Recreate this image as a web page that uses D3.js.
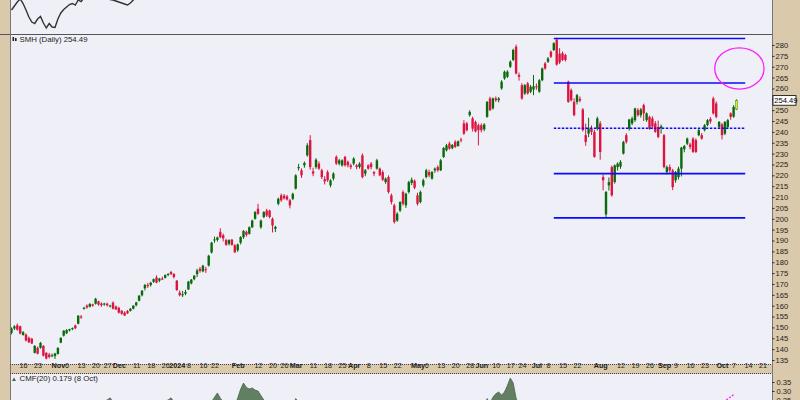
<!DOCTYPE html>
<html><head><meta charset="utf-8">
<script src="https://cdn.jsdelivr.net/npm/d3@7/dist/d3.min.js"></script>
<style>html,body{margin:0;padding:0;background:#dac9ab;}svg{display:block;font-family:"Liberation Sans",Arial,sans-serif;}</style>
</head><body>
<svg id="chart" width="800" height="400"></svg>
<script>
// ---------------- DATA ----------------
const firstDay = "2023-10-10";
const lastCalendarDay = "2024-10-25";
const marketHolidays = ["2023-11-23","2023-12-25","2024-01-01","2024-01-15","2024-02-19","2024-03-29","2024-05-27","2024-06-19","2024-07-04","2024-09-02"];

// SMH daily candles [open, high, low, close], 2023-10-10 .. 2024-10-08
const smhOHLC = [
// Oct 2023
[147.5,150.0,146.8,149.5],[149.5,151.0,148.8,150.5],[151.0,151.8,148.5,149.0],[150.5,150.8,146.8,147.2],
[146.5,148.3,146.2,147.8],[146.7,147.2,143.5,144.0],[145.2,145.8,142.8,143.2],[144.8,145.2,142.3,142.6],
[138.3,141.8,138.0,141.5],[140.6,141.2,137.6,137.9],[140.6,143.3,140.2,142.9],[141.5,141.8,136.6,137.0],
[138.3,138.6,135.3,135.7],[137.5,138.3,135.7,136.4],[136.9,138.0,136.3,137.2],[136.8,138.3,135.5,138.0],
// Nov
[137.8,140.8,137.5,140.6],[143.0,145.4,142.7,145.2],[146.2,148.7,145.8,148.5],[147.3,149.2,146.9,148.8],
[148.6,149.4,148.1,149.2],[149.3,150.0,148.7,149.7],[150.9,151.3,149.2,149.6],[151.7,155.6,151.4,155.4],
[155.0,155.7,154.0,154.6],[158.5,159.5,158.2,159.0],[160.0,160.6,158.6,159.2],[159.5,161.2,159.2,160.8],
[160.6,160.9,159.5,160.0],[160.9,163.6,160.5,163.2],[162.0,162.3,160.0,160.5],[161.0,161.5,159.5,160.2],
[160.5,161.3,160.0,161.0],[160.9,161.4,159.6,160.2],[160.0,160.4,159.2,160.1],[161.4,162.0,158.3,158.6],
[159.6,160.1,158.0,158.3],
// Dec
[159.0,159.5,156.4,156.8],[157.7,157.9,155.8,156.3],[156.8,157.4,155.2,155.5],[157.6,158.0,156.2,156.5],
[157.6,158.9,157.3,158.6],[158.6,160.3,158.3,160.0],[160.2,161.8,159.7,161.5],[162.3,164.9,162.0,164.6],
[164.8,167.2,164.3,166.9],[168.0,170.0,167.0,169.5],[169.5,170.5,168.2,169.0],[169.5,171.0,168.8,170.6],
[171.0,172.5,170.5,172.2],[173.0,174.0,170.3,170.6],[171.5,172.8,170.8,172.5],[172.5,173.4,171.8,172.4],
[172.8,174.4,172.5,174.1],[174.2,175.0,173.6,174.6],[175.5,176.0,174.2,174.5],[174.6,175.0,172.5,173.2],
// Jan 2024
[171.5,171.8,166.8,167.2],[166.0,167.0,164.3,164.8],[164.8,166.8,164.0,165.3],[165.5,167.3,164.8,166.3],
[167.5,171.4,167.2,171.1],[170.3,172.3,169.8,172.0],[172.2,174.1,171.7,173.8],[174.5,177.0,173.2,176.2],
[177.0,177.8,175.2,176.0],[175.8,178.8,175.4,178.4],[176.8,177.9,175.1,176.5],[178.5,183.4,178.0,183.0],
[184.5,189.4,184.0,189.0],[190.2,191.8,189.0,190.5],[190.3,191.8,189.5,191.4],[194.0,195.6,191.1,191.5],
[192.4,193.2,189.6,191.0],[190.2,190.8,187.6,188.0],[188.5,190.6,187.7,190.2],[190.4,190.7,187.6,188.0],
[187.8,188.3,184.2,184.6],
// Feb
[185.5,188.6,184.8,188.2],[189.0,192.0,188.2,191.6],[191.5,194.8,190.8,194.4],[194.0,194.6,191.8,192.6],
[193.1,196.5,192.7,196.1],[196.1,199.6,195.8,199.2],[200.0,203.6,199.6,203.1],[204.6,206.9,201.8,202.3],
[196.1,199.6,195.4,199.2],[200.8,203.5,200.3,203.1],[203.8,204.6,200.8,201.5],[203.8,204.2,200.2,200.8],
[200.0,200.6,193.7,196.9],[195.4,196.8,193.9,196.3],[206.9,209.8,206.2,209.2],[210.8,211.6,207.8,208.5],
[210.6,211.4,208.9,209.4],[210.3,211.0,208.4,208.9],[208.5,209.1,204.8,206.2],[209.2,212.0,208.6,211.5],
// Mar
[213.9,220.5,213.5,220.0],[223.3,225.3,222.2,223.8],[222.3,223.2,218.8,220.0],[224.6,226.4,223.5,225.7],
[229.2,234.8,228.6,233.8],[236.2,238.5,222.6,223.8],[221.8,223.5,219.6,220.8],[223.8,227.9,223.0,227.2],
[225.4,226.4,222.5,223.1],[222.3,223.0,218.3,219.2],[218.2,219.6,215.8,217.2],[221.5,222.4,217.0,217.7],
[215.4,218.2,214.5,217.7],[218.5,221.4,217.6,220.8],[228.5,229.2,224.8,225.4],[225.4,227.6,224.6,226.9],
[224.6,227.4,224.0,226.9],[228.5,229.0,224.0,224.6],[226.2,226.8,223.6,224.6],[224.6,225.4,222.8,223.8],
// Apr
[225.4,228.4,224.6,227.7],[224.6,225.2,222.8,223.8],[223.8,226.0,223.1,225.4],[229.2,230.1,218.6,219.2],
[220.8,222.9,219.6,222.3],[224.6,225.1,222.6,223.1],[225.4,226.1,222.7,223.8],[221.5,222.0,219.6,220.8],
[223.1,227.6,222.6,226.9],[223.1,223.6,219.6,220.0],[221.5,222.3,217.4,218.0],[216.9,219.0,216.1,218.5],
[219.2,220.0,211.6,212.3],[210.8,211.6,206.6,207.7],[206.2,207.0,197.8,198.5],[199.2,203.0,198.6,202.3],
[203.8,208.1,203.1,207.7],[212.3,213.1,206.1,206.9],[206.2,212.0,205.0,211.5],[212.3,217.5,211.6,216.9],
[216.5,219.0,215.5,218.0],[217.5,218.1,213.6,214.3],
// May
[210.8,212.0,206.1,206.9],[207.7,213.0,207.1,212.3],[215.4,218.5,214.5,217.7],[219.2,223.0,218.6,222.3],
[221.5,222.6,219.1,220.0],[218.5,222.0,218.0,221.5],[222.3,223.6,221.2,223.1],[223.8,224.6,221.6,222.3],
[222.3,227.5,222.0,226.9],[228.5,233.0,228.0,232.6],[231.5,234.5,231.0,233.8],[234.6,235.5,231.8,232.3],
[232.5,234.4,232.0,234.0],[235.4,236.2,232.6,233.1],[233.5,236.0,233.2,235.7],[236.5,237.3,235.2,236.2],
[243.9,245.4,238.6,239.2],[243.9,244.6,240.2,240.8],[247.7,250.0,247.0,249.2],[246.2,247.0,240.2,241.5],
[244.6,245.2,239.8,240.2],[243.1,243.8,233.8,240.8],
// Jun
[243.1,243.9,239.8,240.8],[241.2,244.0,240.3,243.4],[246.9,254.2,246.5,253.8],[255.4,256.2,249.6,250.0],
[250.8,255.8,250.3,255.4],[255.4,256.3,253.8,254.6],[254.6,256.0,253.6,255.4],[260.0,263.8,259.4,263.1],
[264.6,268.2,264.0,267.7],[265.4,268.4,264.8,267.7],[270.0,272.9,269.4,272.3],[273.1,278.3,272.6,277.7],
[279.2,280.2,266.4,266.9],[266.2,267.3,263.6,265.4],[261.5,262.4,254.8,255.4],[257.7,262.0,257.0,261.5],
[262.3,263.0,257.2,257.7],[258.5,261.6,257.8,260.8],[259.5,266.2,256.9,261.0],
// Jul
[261.0,262.3,259.4,260.8],[258.5,264.3,258.0,263.8],[263.8,269.6,263.3,269.2],[271.5,272.2,268.6,269.2],
[272.3,274.5,271.7,273.8],[276.9,277.5,274.0,274.6],[277.7,281.3,277.2,280.8],[282.5,283.3,270.5,271.0],
[276.0,278.5,271.2,272.0],[276.2,277.0,272.6,273.1],[275.4,276.0,272.4,273.1],[263.1,263.6,253.4,253.8],
[259.2,260.0,254.0,254.6],[253.8,255.4,247.2,247.7],[253.8,257.5,252.6,256.9],[255.2,256.3,253.6,254.4],
[250.3,251.0,240.2,240.8],[238.5,243.8,233.6,235.4],[239.2,246.5,237.6,241.5],[241.5,243.0,238.6,240.0],
[240.0,241.0,228.1,228.5],[241.5,247.0,240.6,246.2],
// Aug
[243.9,245.0,227.2,230.8],[219.2,220.4,213.1,217.7],[202.0,212.8,200.6,212.3],[215.4,219.0,213.0,216.9],
[223.8,224.5,210.2,210.8],[216.9,225.0,216.2,224.6],[223.8,226.0,222.2,225.4],[224.0,227.0,223.0,226.2],
[230.0,235.9,229.6,235.4],[238.5,239.4,234.6,235.4],[241.5,246.0,240.6,245.7],[243.9,247.0,243.1,246.2],
[245.4,251.1,244.6,250.8],[250.0,251.0,247.0,247.7],[247.7,251.0,246.6,250.3],[252.3,253.0,245.0,248.5],
[245.4,249.0,244.6,248.5],[246.9,247.5,241.0,241.5],[246.2,247.2,241.2,242.5],[243.9,245.0,239.6,240.0],
[242.3,245.2,237.1,237.7],[241.8,243.4,239.2,242.6],
// Sep
[238.5,239.0,223.2,223.8],[221.5,224.5,220.4,223.8],[223.8,225.0,220.6,222.3],[222.3,223.0,213.2,214.6],
[217.7,222.0,216.6,221.5],[219.2,224.0,218.1,223.1],[223.1,233.1,219.5,232.8],[232.0,234.0,230.6,233.5],
[234.6,237.4,233.9,236.9],[234.2,235.0,232.0,233.1],[236.9,237.6,230.3,230.8],[236.2,237.0,230.3,230.8],
[238.5,241.5,238.0,240.8],[238.5,239.5,236.4,236.9],[240.8,243.6,240.2,243.1],[243.1,245.9,242.6,245.4],
[246.0,246.8,243.8,244.8],[255.4,256.2,248.0,248.5],[253.1,254.0,246.3,246.9],[242.3,245.0,241.5,244.6],
// Oct 2024
[243.5,244.0,236.5,238.5],[239.2,245.0,238.5,244.6],[242.3,246.0,241.5,245.4],[248.5,249.0,245.6,246.9],
[247.0,252.3,246.5,251.5],[250.5,255.1,250.0,254.49]
];

// Chaikin Money Flow (20), same days
const cmfValues = [
0.05,0.06,0.05,0.03,0.02,0.0,-0.02,-0.04,-0.05,-0.06,-0.05,-0.07,-0.08,-0.07,-0.06,-0.05,
-0.02,0.03,0.08,0.10,0.12,0.13,0.14,0.17,0.18,0.21,0.22,0.23,0.23,0.24,0.23,0.24,0.245,0.25,0.262,0.24,0.22,
0.20,0.18,0.17,0.16,0.17,0.18,0.19,0.20,0.21,0.22,0.21,0.22,0.23,0.22,0.23,0.24,0.245,0.25,0.262,0.24,
0.20,0.16,0.15,0.15,0.17,0.18,0.19,0.20,0.20,0.21,0.22,0.23,0.24,0.265,0.289,0.26,0.24,0.23,0.235,0.23,0.22,
0.26,0.31,0.344,0.32,0.311,0.317,0.305,0.30,0.275,0.25,0.23,0.21,0.20,0.19,0.21,0.22,0.21,0.20,0.19,0.21,
0.258,0.24,0.22,0.21,0.23,0.20,0.18,0.17,0.15,0.13,0.12,0.12,0.11,0.12,0.14,0.13,0.12,0.11,0.10,0.09,
0.10,0.08,0.08,0.05,0.05,0.04,0.04,0.03,0.04,0.02,0.0,-0.01,-0.03,-0.05,-0.08,-0.06,-0.04,-0.05,-0.02,0.0,0.01,-0.01,
-0.03,-0.01,0.02,0.05,0.06,0.07,0.08,0.08,0.10,0.13,0.14,0.14,0.15,0.15,0.16,0.16,0.18,0.18,0.20,0.18,0.17,0.17,
0.19,0.21,0.258,0.23,0.265,0.285,0.294,0.278,0.294,0.33,0.372,0.345,0.26,0.22,0.19,0.18,0.17,0.16,0.15,
0.14,0.15,0.16,0.15,0.14,0.14,0.15,0.12,0.10,0.08,0.07,0.03,0.0,-0.03,-0.02,-0.03,-0.07,-0.10,-0.09,-0.10,-0.13,-0.10,
-0.13,-0.17,-0.18,-0.17,-0.19,-0.16,-0.15,-0.14,-0.10,-0.09,-0.06,-0.05,-0.02,-0.01,0.0,-0.02,-0.01,-0.03,-0.04,-0.05,-0.07,-0.06,
-0.10,-0.10,-0.11,-0.13,-0.11,-0.09,-0.04,-0.03,0.0,0.0,-0.02,-0.03,0.02,0.02,0.05,0.07,0.07,0.09,0.10,0.12,
0.11,0.13,0.14,0.15,0.16,0.179
];

// relative-strength line in upper panel (only its lower part is visible)
const rsValues = [0.324,0.328,0.332,0.335,0.3305,0.324,0.317,0.312,0.3105,0.315,0.3175,0.311,0.306,0.3105,0.307,0.3065,
0.315,0.321,0.3245,0.327,0.3295,0.3305,0.329,0.334,0.3325,0.336,0.338,0.339,0.340,0.341,0.339,0.338,0.337,0.336,
0.3345,0.334,0.333,0.332,0.331,0.330,0.329,0.331,0.334,0.337,0.340,0.343];

// axis labels
const tickDates = ["2023-10-16","2023-10-23","2023-11-01","2023-11-06","2023-11-13","2023-11-20","2023-11-27","2023-12-01","2023-12-11","2023-12-18","2023-12-26",
"2024-01-02","2024-01-08","2024-01-16","2024-01-22","2024-02-01","2024-02-12","2024-02-20","2024-02-26","2024-03-01","2024-03-11","2024-03-18","2024-03-25",
"2024-04-01","2024-04-08","2024-04-15","2024-04-22","2024-05-01","2024-05-06","2024-05-13","2024-05-20","2024-05-28","2024-06-03","2024-06-10","2024-06-17","2024-06-24",
"2024-07-01","2024-07-08","2024-07-15","2024-07-22","2024-08-01","2024-08-12","2024-08-19","2024-08-26","2024-09-03","2024-09-09","2024-09-16","2024-09-23",
"2024-10-01","2024-10-07","2024-10-14","2024-10-21"];
const tickLabels = ["16","23","Nov","6","13","20","27","Dec","11","18","26","2024","8","16","22","Feb","12","20","26","Mar","11","18","25",
"Apr","8","15","22","May","6","13","20","28","Jun","10","17","24","Jul","8","15","22","Aug","12","19","26","Sep","9","16","23","Oct","7","14","21"];
const priceTicks = d3.range(135, 281, 5);
const cmfTicks = [0.25, 0.30, 0.35];

// annotations
const levelPrices = [283.0, 262.5, 220.8, 200.4];
const dashedLevel = 241.7;
const levelStart = "2024-07-10", levelEnd = "2024-10-11";
const ellipseCenter = {date: "2024-10-09", price: 269.2};
const ellipseHalfDays = 8.5, ellipseHalfPrice = 9.5;
const cmfTrend = [{date: "2024-09-05", v: 0.02}, {date: "2024-10-07", v: 0.28}];
const lastClose = 254.49;

// ---------------- CALENDAR ----------------
function tradingDays(a, b) {
  const out = [], d = new Date(a + "T12:00:00Z"), e = new Date(b + "T12:00:00Z");
  while (d <= e) {
    const wd = d.getUTCDay(), s = d.toISOString().slice(0, 10);
    if (wd !== 0 && wd !== 6 && !marketHolidays.includes(s)) out.push(s);
    d.setUTCDate(d.getUTCDate() + 1);
  }
  return out;
}
const days = tradingDays(firstDay, lastCalendarDay);
const idx = new Map(days.map((d, i) => [d, i]));

// ---------------- LAYOUT ----------------
const svg = d3.select("#chart");
const L = 10, R = 772;
const P = {top: [0, 34], main: [35, 364], date: [364, 373], cmf: [374, 400]};
const BG = "#eff0f7", BEIGE = "#dac9ab";

const x = d3.scaleLinear().domain([0, 250]).range([11.5, 736.5]);
const y = d3.scaleLinear().domain([135, 280]).range([360, 45]);
const yc = d3.scaleLinear().domain([0.25, 0.35]).range([400, 382]);
const yr = d3.scaleLinear().domain([0.300, 0.334]).range([34, 0]);

svg.append("rect").attr("width", 800).attr("height", 400).attr("fill", BEIGE);
const defs = svg.append("defs");
for (const [k, [a, b]] of Object.entries(P)) {
  svg.append("rect").attr("x", L).attr("y", a).attr("width", R - L).attr("height", b - a)
    .attr("fill", k === "date" ? BEIGE : BG);
  defs.append("clipPath").attr("id", "clip-" + k).append("rect")
    .attr("x", L + 0.5).attr("y", a).attr("width", R - L - 1).attr("height", b - a);
}

// ---------- top panel line ----------
svg.append("g").attr("clip-path", "url(#clip-top)").append("path")
  .datum(rsValues)
  .attr("d", d3.line().x((d, i) => x(i)).y(d => yr(d)))
  .attr("fill", "none").attr("stroke", "#333").attr("stroke-width", 1.4);

// ---------- main panel ----------
const gm = svg.append("g").attr("clip-path", "url(#clip-main)");
const candles = smhOHLC.map((r, i) => ({i, o: r[0], h: r[1], l: r[2], c: r[3]}));
const last = candles.length - 1;
const col = d => d.i === last ? "#5d9a1e" : (d.c >= d.o ? "#0a6a0a" : "#dc1440");
const fillC = d => d.i === last ? "#d6e84c" : col(d);
gm.selectAll("line.wick").data(candles).join("line").attr("class", "wick")
  .attr("x1", d => x(d.i)).attr("x2", d => x(d.i))
  .attr("y1", d => y(d.h)).attr("y2", d => y(d.l))
  .attr("stroke", col).attr("stroke-width", 1);
const bw = 2.4;
gm.selectAll("rect.body").data(candles).join("rect").attr("class", "body")
  .attr("x", d => x(d.i) - bw / 2).attr("width", bw)
  .attr("y", d => y(Math.max(d.o, d.c)))
  .attr("height", d => Math.max(1, Math.abs(y(d.o) - y(d.c))))
  .attr("fill", fillC)
  .attr("stroke", d => d.i === last ? "#5d9a1e" : "none").attr("stroke-width", 0.6);

// levels
const xs = x(idx.get(levelStart)), xe = x(idx.get(levelEnd));
gm.selectAll("line.level").data(levelPrices).join("line").attr("class", "level")
  .attr("x1", xs).attr("x2", xe).attr("y1", d => y(d)).attr("y2", d => y(d))
  .attr("stroke", "#0a0aff").attr("stroke-width", 1.6);
gm.append("line").attr("x1", xs).attr("x2", xe).attr("y1", y(dashedLevel)).attr("y2", y(dashedLevel))
  .attr("stroke", "#0a0aff").attr("stroke-width", 1.4).attr("stroke-dasharray", "2.5,1.5");

// ellipse
const ci = idx.get(ellipseCenter.date);
gm.append("ellipse").attr("cx", x(ci)).attr("cy", y(ellipseCenter.price))
  .attr("rx", x(ci + ellipseHalfDays) - x(ci)).attr("ry", y(ellipseCenter.price - ellipseHalfPrice) - y(ellipseCenter.price))
  .attr("fill", "none").attr("stroke", "#ff1aff").attr("stroke-width", 1.3);

// title
const t1 = svg.append("g");
t1.append("rect").attr("x", 12.5).attr("y", 37).attr("width", 1.6).attr("height", 4).attr("fill", "#222");
t1.append("rect").attr("x", 15).attr("y", 38).attr("width", 1.6).attr("height", 3).attr("fill", "#222");
t1.append("text").attr("x", 19.5).attr("y", 42.3).attr("font-size", 7.8).attr("fill", "#222")
  .text("SMH (Daily) " + lastClose.toFixed(2));

// ---------- CMF panel ----------
const gc = svg.append("g").attr("clip-path", "url(#clip-cmf)");
gc.append("path").datum(cmfValues)
  .attr("d", d3.area().x((d, i) => x(i)).y0(yc(0)).y1(d => yc(d)))
  .attr("fill", "#637f63").attr("stroke", "#4a634a").attr("stroke-width", 0.8);
gc.append("line")
  .attr("x1", x(idx.get(cmfTrend[0].date))).attr("y1", yc(cmfTrend[0].v))
  .attr("x2", x(idx.get(cmfTrend[1].date))).attr("y2", yc(cmfTrend[1].v))
  .attr("stroke", "#ff1aff").attr("stroke-width", 1.3).attr("stroke-dasharray", "2,1.5");
const t2 = svg.append("g");
t2.append("path").attr("d", "M12,381 L14,377.5 L16,381 Z").attr("fill", "#4a634a");
t2.append("text").attr("x", 19.5).attr("y", 381.3).attr("font-size", 7.8).attr("fill", "#222")
  .text("CMF(20) " + cmfValues[last].toFixed(3) + " (8 Oct)");

// ---------- borders ----------
const bord = svg.append("g").attr("fill", "none");
bord.append("line").attr("x1", 0).attr("x2", R).attr("y1", 34.5).attr("y2", 34.5).attr("stroke", "#555");
bord.append("line").attr("x1", L + 0.5).attr("x2", L + 0.5).attr("y1", 0).attr("y2", 400).attr("stroke", "#777");
bord.append("line").attr("x1", R + 0.5).attr("x2", R + 0.5).attr("y1", 0).attr("y2", 400).attr("stroke", "#777");
bord.append("line").attr("x1", L).attr("x2", R).attr("y1", 364.5).attr("y2", 364.5).attr("stroke", "#444").attr("stroke-dasharray", "1,1");
bord.append("line").attr("x1", L).attr("x2", R).attr("y1", 373.5).attr("y2", 373.5).attr("stroke", "#444").attr("stroke-dasharray", "1,1");

// ---------- axes ----------
const ay = svg.append("g").attr("transform", `translate(${R},0)`)
  .call(d3.axisRight(y).tickValues(priceTicks).tickSize(2.5).tickPadding(1)
    .tickFormat(d => Math.abs(y(d) - y(lastClose)) < 6 ? "" : d3.format("d")(d)));
const acm = svg.append("g").attr("transform", `translate(${R},0)`)
  .call(d3.axisRight(yc).tickValues(cmfTicks).tickSize(2.5).tickPadding(2).tickFormat(d3.format(".2f")));
const ax = svg.append("g").attr("transform", `translate(0,${P.date[0]})`)
  .call(d3.axisBottom(x).tickValues(tickDates.map(d => idx.get(d))).tickSize(0).tickPadding(0)
    .tickFormat((d, i) => tickLabels[i]));
for (const g of [ay, acm, ax]) {
  g.select(".domain").remove();
  g.selectAll("text").attr("font-family", "Liberation Sans, Arial, sans-serif").attr("fill", "#222");
  g.selectAll("line").attr("stroke", "#333");
}
ay.selectAll("text").attr("font-size", 7.6);
acm.selectAll("text").attr("font-size", 7.6);
ax.selectAll("text").attr("font-size", 7.2).attr("dy", "0.55em")
  .attr("font-weight", (d, i) => /^[A-Z]|2024/.test(tickLabels[i]) ? "bold" : "normal");

// last price box
const yb = y(lastClose);
svg.append("rect").attr("x", R + 1).attr("y", yb - 4.8).attr("width", 23).attr("height", 9.6)
  .attr("fill", "#fff").attr("stroke", "#000").attr("stroke-width", 0.8);
svg.append("text").attr("x", R + 2.3).attr("y", yb + 2.8).attr("font-size", 7.6).attr("fill", "#000")
  .text(lastClose.toFixed(2));
</script>
</body></html>
